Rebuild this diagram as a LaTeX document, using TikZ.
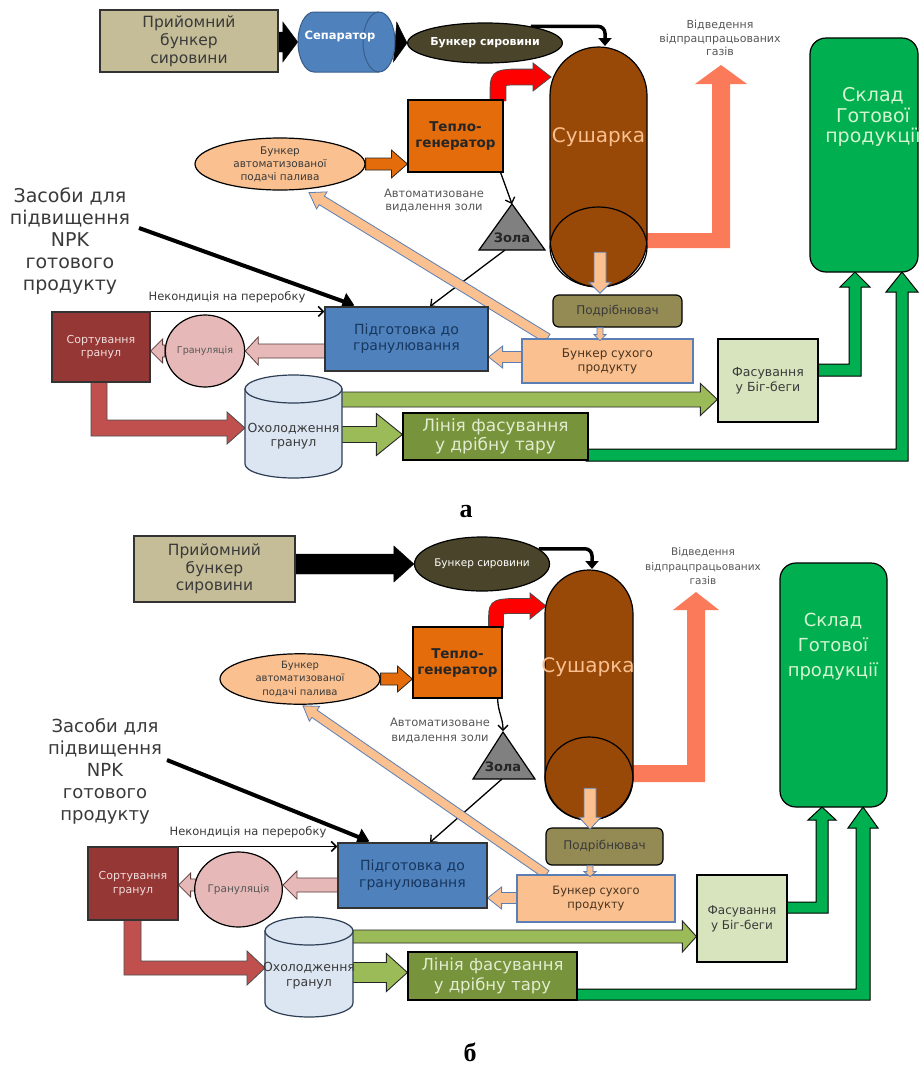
\documentclass[tikz,border=0pt]{standalone}
\usepackage{fontspec}
\setmainfont{DejaVu Sans}
\newfontfamily\capfont{Liberation Serif}
\usetikzlibrary{calc,arrows.meta,shapes.geometric}
\pgfdeclarelayer{bg}
\pgfsetlayers{bg,main}
\definecolor{tanc}{HTML}{C4BD97}
\definecolor{sepc}{HTML}{4F81BD}
\definecolor{sepd}{HTML}{385D8A}
\definecolor{bsc}{HTML}{4A452A}
\definecolor{sushc}{HTML}{984807}
\definecolor{peach}{HTML}{FAC090}
\definecolor{peachd}{HTML}{5B7FB5}
\definecolor{orng}{HTML}{E46C0A}
\definecolor{zolac}{HTML}{808080}
\definecolor{podgc}{HTML}{4F81BD}
\definecolor{podgt}{HTML}{17365D}
\definecolor{sortc}{HTML}{953735}
\definecolor{sortt}{HTML}{F2DCDB}
\definecolor{pinkc}{HTML}{E6B9B8}
\definecolor{pinkd}{HTML}{5A3A3A}
\definecolor{podrc}{HTML}{948A54}
\definecolor{oholc}{HTML}{DCE6F2}
\definecolor{hold}{HTML}{2D3E55}
\definecolor{liniac}{HTML}{77933C}
\definecolor{liniat}{HTML}{E2ECD0}
\definecolor{fasc}{HTML}{D7E4BD}
\definecolor{lgreen}{HTML}{9BBB59}
\definecolor{grn}{HTML}{00B050}
\definecolor{skladt}{HTML}{D6F5D0}
\definecolor{salmon}{HTML}{FA7A5A}
\definecolor{redl}{HTML}{C0504D}
\definecolor{txt}{HTML}{3A3A3A}
\definecolor{bspt}{HTML}{4A3520}
\newcommand{\fsz}[2]{\fontsize{#1}{#2}\selectfont}
% straight outlined block arrow: style, start, tip, half shaft, half head, head length
\newcommand{\fatarr}[6]{%
 \path #2 coordinate (faS) #3 coordinate (faE);
 \coordinate (faH) at ($(faE)!#6!(faS)$);
 \filldraw[#1] ($(faS)!#4!90:(faE)$) -- ($(faH)!#4!-90:(faS)$) -- ($(faH)!#5!-90:(faS)$) -- (faE) -- ($(faH)!#5!90:(faS)$) -- ($(faH)!#4!90:(faS)$) -- ($(faS)!#4!-90:(faE)$) -- cycle;}
% arrow head: style, base, tip, half width
\newcommand{\fathead}[4]{\filldraw[#1] ($#2!#4!90:#3$) -- #3 -- ($#2!#4!-90:#3$) -- cycle;}
\tikzset{
 every node/.style={align=center, inner sep=0pt},
 bord/.style={line width=1.2pt},
 thinarr/.style={line width=1.3pt, -{Straight Barb[length=5pt,width=10pt]}},
 blackarr/.style={fill=black, draw=black},
 peacharr/.style={fill=peach, draw=peachd, line width=0.8pt},
 pinkarr/.style={fill=pinkc, draw=pinkd, line width=0.8pt},
 lgarr/.style={fill=lgreen, draw=black!85, line width=0.9pt},
 orarr/.style={fill=orng, draw=black!85, line width=0.8pt},
 grarr/.style={fill=grn, draw=black, line width=1pt},
 redarr/.style={fill=redl, draw=black!70, line width=0.8pt},
}
\begin{document}
\begin{tikzpicture}[x=1pt,y=-1pt]
\begin{pgfonlayer}{bg}
\fill[white] (0,0) rectangle (919,1066);
\end{pgfonlayer}
\path[use as bounding box] (0,0) rectangle (919,1066);

%%%%%%%%%%%%%%%%%%%%%% diagram a %%%%%%%%%%%%%%%%%%%%%%
\node[draw=black!80, bord, fill=tanc, minimum width=178pt, minimum height=62pt, text=txt, font=\fsz{15.5}{18}] (pr) at (189,41) {Прийомний\\бункер\\сировини};
\draw[fill=sepc, draw=sepd, line width=1pt] (314,12) -- (379,12) arc(-90:90:16 and 30) -- (314,72) arc(90:270:16 and 30) -- cycle;
\draw[draw=sepd, line width=1pt] (379,12) arc(270:90:16 and 30);
\node[minimum width=97pt, minimum height=60pt] (sep) at (346.5,42) {};
\node[text=white, font=\bfseries\fsz{11.5}{14}] (sept) at (340,36) {Сепаратор};
\node[ellipse, draw=black, bord, fill=bsc, minimum width=134pt, minimum height=40pt, text=white, font=\bfseries\fsz{11}{13}] (bs) at (485,43) {Бункер сировини};
\draw[bord, fill=sushc, rounded corners=48.5pt] (550,47) rectangle (647,287);
\draw[bord] (598.5,247) ellipse (48.5 and 40);
\node[minimum width=97pt, minimum height=240pt] (sush) at (598.5,167) {};
\node[text=peach, font=\fsz{20}{24}] (susht) at (598.5,137) {Сушарка};
\node[draw=black, bord, fill=orng, minimum width=95pt, minimum height=72pt, font=\bfseries\fsz{13.5}{16}, text=black!85] (tep) at (455.5,136) {Тепло-\\генератор};
\node[ellipse, draw=black, bord, fill=peach, minimum width=170pt, minimum height=52pt, font=\fsz{10.5}{13}, text=txt] (bap) at (280,164) {Бункер\\автоматизованої\\подачі палива};
\node[text=txt!85, font=\fsz{11.5}{13}] (avt) at (434,201) {Автоматизоване\\видалення золи};
\draw[fill=zolac, draw=black, bord] (512,204) -- (545,250) -- (479,250) -- cycle;
\coordinate (zolaTop) at (512,204);
\coordinate (zolaBot) at (505,250);
\node[font=\bfseries\fsz{13}{15}, text=black!85] (zola) at (512,238) {Зола};
\node[text=txt, font=\fsz{19}{22}] (zas) at (70,241) {Засоби для\\підвищення\\NPK\\готового\\продукту};
\coordinate (zasE) at (139,228);
\node[text=txt, font=\fsz{11.5}{13}] (nek) at (227,297) {Некондиція на переробку};
\node[draw=black!80, bord, fill=podgc, minimum width=163pt, minimum height=64pt, text=podgt, font=\fsz{14}{16}] (podg) at (406.5,339) {Підготовка до\\гранулювання};
\node[draw=black!80, bord, fill=sortc, minimum width=98pt, minimum height=70pt, text=sortt, font=\fsz{11}{13}] (sort) at (101,347) {Сортування\\гранул};
\node[ellipse, draw=black, bord, fill=pinkc, minimum width=70pt, minimum height=72pt, text=txt!85, font=\fsz{9.5}{11}] (gran) at (205,351) {Грануляція};
\node[draw=black, bord, fill=podrc, rounded corners=6pt, minimum width=129pt, minimum height=32pt, text=txt, font=\fsz{12}{14}] (podr) at (617.5,311) {Подрібнювач};
\node[draw=peachd, bord, fill=peach, minimum width=171pt, minimum height=44pt, text=bspt, font=\fsz{12}{14}] (bsp) at (607.5,361) {Бункер сухого\\продукту};
\draw[fill=oholc, draw=hold, bord] (245,389) -- (245,464) arc(180:0:48.5 and 14) -- (342,389) -- cycle;
\draw[fill=oholc, draw=hold, bord] (293.5,389) ellipse (48.5 and 14);
\node[minimum width=97pt, minimum height=103pt] (ohol) at (293.5,426.5) {};
\node[text=txt, font=\fsz{12.5}{14}] (oholt) at (293.5,436) {Охолодження\\гранул};
\node[draw=black, bord, fill=liniac, minimum width=185pt, minimum height=47pt, text=liniat, font=\fsz{17}{19}] (linia) at (495.5,436.5) {Лінія фасування\\у дрібну тару};
\node[draw=black, bord, fill=fasc, minimum width=100pt, minimum height=83pt, text=txt, font=\fsz{12.5}{15}] (fas) at (768,380.5) {Фасування\\у Біг-беги};
\node[draw=black, bord, fill=grn, rounded corners=16pt, minimum width=108pt, minimum height=234pt] (sklad) at (864,155) {};
\node[text=skladt, font=\fsz{19}{20.5}] (skladt) at (873,117) {Склад\\Готової\\продукції};
\node[text=txt!85, font=\fsz{11}{13.5}] (vid) at (720,38) {Відведення\\відпрацпрацьованих\\газів};
\node[font=\capfont\bfseries\fsz{26}{28}] (capa) at (466,512) {а};
% arrows drawn over the dryer
\fatarr{peacharr}{($(sush.south)+(1.5,-35)$)}{($(sush.south)+(1.5,6)$)}{6pt}{11pt}{11pt}
\fatarr{peacharr}{($(podr.south)+(-17.5,0)$)}{($(podr.south)+(-17.5,13)$)}{3pt}{6pt}{6pt}

\begin{pgfonlayer}{bg}
\fatarr{blackarr}{(pr.east |- sep.west)}{(sep.west)}{10pt}{20pt}{15pt}
\fatarr{blackarr}{(sep.east)}{(bs.west)}{10pt}{20pt}{12pt}
\coordinate (sushIn) at (605,46);
\draw[line width=3.5pt, -{Triangle[length=8pt,width=13pt]}, rounded corners=7pt] (bs.20) -- (bs.20 -| sushIn) -- (sushIn);
\fathead{fill=red, draw=black!70, line width=0.8pt}{(533,77)}{(551,77)}{14pt}
\draw[draw=black!70, line width=0.8pt, double=red, double distance=15pt] (498,101) -- (498,92) .. controls (498,78) .. (512,77) -- (534,77);
\fatarr{orarr}{(bap.east)}{(bap.east -| tep.west)}{6pt}{14pt}{16pt}
\draw[thinarr] ($(tep.south east)+(-3,0)$) -- (zolaTop);
\draw[thinarr] (zolaBot) -- ($(podg.north)+(23.5,0)$);
\draw[line width=4pt, -{Triangle[length=12pt,width=17pt]}] (zasE) -- ($(podg.north west)+(30,-1)$);
\draw[line width=1.6pt, -{Straight Barb[length=5pt,width=10pt]}] (sort.north east) -- (sort.north east -| podg.west);
\fatarr{pinkarr}{($(podg.west)+(0,12)$)}{(gran.east)}{7pt}{14pt}{13pt}
\fatarr{pinkarr}{(gran.west)}{(gran.west -| sort.east)}{6pt}{12pt}{12pt}
\filldraw[redarr] (91,380) -- (91,436) -- (227,436) -- (227,444) -- (245,428) -- (227,412) -- (227,420) -- (107,420) -- (107,380) -- cycle;
\coordinate (ohA) at (341,399.5);
\fatarr{lgarr}{(ohA)}{(ohA -| fas.west)}{7.5pt}{16pt}{17pt}
\coordinate (ohB) at (341,434.5);
\fatarr{lgarr}{(ohB)}{(ohB -| linia.west)}{8pt}{21pt}{26pt}
\coordinate (bspL) at (522,357);
\fatarr{peacharr}{(bspL)}{(bspL -| podg.east)}{5.5pt}{11pt}{14pt}
\fatarr{peacharr}{($(bsp.north west)+(26,0)$)}{($(bap.south)+(29,2)$)}{5pt}{10pt}{15pt}
\fill[salmon] (640,233) -- (712,233) -- (712,84) -- (695,84) -- (721,65) -- (747,84) -- (730,84) -- (730,248) -- (640,248) -- cycle;
\filldraw[grarr] (816,364) -- (849,364) -- (849,287) -- (840,287) -- (855,272) -- (870,287) -- (861,287) -- (861,376) -- (816,376) -- cycle;
\filldraw[grarr] (586,449) -- (896,449) -- (896,292) -- (886,292) -- (902,272) -- (918,292) -- (908,292) -- (908,461) -- (586,461) -- cycle;
\end{pgfonlayer}

%%%%%%%%%%%%%%%%%%%%%% diagram b %%%%%%%%%%%%%%%%%%%%%%
\node[draw=black!80, bord, fill=tanc, minimum width=161pt, minimum height=66pt, text=txt, font=\fsz{15.5}{17.5}] (pr2) at (214.5,569) {Прийомний\\бункер\\сировини};
\node[ellipse, draw=black, bord, fill=bsc, minimum width=120pt, minimum height=54pt, text=white, font=\fsz{10.5}{12}] (bs2) at (482,564) {Бункер сировини};
\draw[bord, fill=sushc, rounded corners=44pt] (545,570) rectangle (633,820);
\draw[bord] (589,778.5) ellipse (44 and 41.5);
\node[minimum width=88pt, minimum height=250pt] (sush2) at (589,695) {};
\node[text=peach, font=\fsz{20}{24}] (sush2t) at (588,667) {Сушарка};
\node[draw=black, bord, fill=orng, minimum width=89pt, minimum height=71pt, font=\bfseries\fsz{13.5}{16}, text=black!85] (tep2) at (457.5,662.5) {Тепло-\\генератор};
\node[ellipse, draw=black, bord, fill=peach, minimum width=160pt, minimum height=48pt, font=\fsz{10}{13.5}, text=txt] (bap2) at (300,679) {Бункер\\автоматизованої\\подачі палива};
\node[text=txt!85, font=\fsz{11.5}{15}] (avt2) at (440,730.5) {Автоматизоване\\видалення золи};
\draw[fill=zolac, draw=black, bord] (503,732) -- (535,779) -- (473,779) -- cycle;
\coordinate (zola2Top) at (503,731);
\coordinate (zola2Bot) at (502,779);
\node[font=\bfseries\fsz{13}{15}, text=black!85] (zola2) at (503,767) {Зола};
\node[text=txt, font=\fsz{18}{22}] (zas2) at (105,771.5) {Засоби для\\підвищення\\NPK\\готового\\продукту};
\coordinate (zas2E) at (167,760);
\node[text=txt, font=\fsz{11.5}{13}] (nek2) at (248,832) {Некондиція на переробку};
\node[draw=black!80, bord, fill=podgc, minimum width=149pt, minimum height=65pt, text=podgt, font=\fsz{14}{17}] (podg2) at (412.5,875.5) {Підготовка до\\гранулювання};
\node[draw=black!80, bord, fill=sortc, minimum width=90pt, minimum height=73pt, text=sortt, font=\fsz{11}{14}] (sort2) at (133,883.5) {Сортування\\гранул};
\node[ellipse, draw=black, bord, fill=pinkc, minimum width=87pt, minimum height=75pt, text=txt!85, font=\fsz{10.5}{12}] (gran2) at (238.5,889.5) {Грануляція};
\node[draw=black, bord, fill=podrc, rounded corners=6pt, minimum width=117pt, minimum height=37pt, text=txt, font=\fsz{12}{14}] (podr2) at (604.5,846.5) {Подрібнювач};
\node[draw=peachd, bord, fill=peach, minimum width=158pt, minimum height=47pt, text=bspt, font=\fsz{11.5}{14}] (bsp2) at (596,898.5) {Бункер сухого\\продукту};
\draw[fill=oholc, draw=hold, bord] (265,931) -- (265,1003) arc(180:0:44 and 14) -- (353,931) -- cycle;
\draw[fill=oholc, draw=hold, bord] (309,931) ellipse (44 and 14);
\node[minimum width=88pt, minimum height=100pt] (ohol2) at (309,967) {};
\node[text=txt, font=\fsz{12.5}{15}] (ohol2t) at (309,975.5) {Охолодження\\гранул};
\node[draw=black, bord, fill=liniac, minimum width=169pt, minimum height=48pt, text=liniat, font=\fsz{16.5}{20}] (linia2) at (492.5,976) {Лінія фасування\\у дрібну тару};
\node[draw=black, bord, fill=fasc, minimum width=90pt, minimum height=87pt, text=txt, font=\fsz{12}{15}] (fas2) at (742,918.5) {Фасування\\у Біг-беги};
\node[draw=black, bord, fill=grn, rounded corners=16pt, minimum width=107pt, minimum height=244pt] (sklad2) at (833.5,685) {};
\node[text=skladt, font=\fsz{18}{25}] (sklad2t) at (833,647) {Склад\\Готової\\продукції};
\node[text=txt!85, font=\fsz{10.5}{14.5}] (vid2) at (703,566.5) {Відведення\\відпрацпрацьованих\\газів};
\node[font=\capfont\bfseries\fsz{26}{28}] (capb) at (470,1052) {б};
% arrows drawn over the dryer
\fatarr{peacharr}{($(sush2.south)+(1,-32)$)}{($(sush2.south)+(1,9)$)}{6pt}{11pt}{12pt}
\fatarr{peacharr}{($(podr2.south)+(-14.5,0)$)}{($(podr2.south)+(-14.5,11)$)}{3pt}{6pt}{5pt}

\begin{pgfonlayer}{bg}
\fatarr{blackarr}{(pr2.east |- bs2.west)}{(bs2.west)}{10pt}{18pt}{20pt}
\coordinate (sush2In) at (592,569);
\draw[line width=3.5pt, -{Triangle[length=8pt,width=13pt]}, rounded corners=7pt] (bs2.15) -- (bs2.15 -| sush2In) -- (sush2In);
\fathead{fill=red, draw=black!70, line width=0.8pt}{(530,606)}{(546,606)}{13pt}
\draw[draw=black!70, line width=0.8pt, double=red, double distance=14pt] (496,628) -- (496,620) .. controls (496,607) .. (509,606) -- (531,606);
\fatarr{orarr}{(bap2.east)}{(bap2.east -| tep2.west)}{6pt}{13pt}{15pt}
\draw[thinarr] ($(tep2.south east)+(-5,0)$) .. controls (498,712) and (503,718) .. (zola2Top);
\draw[thinarr] (zola2Bot) -- ($(podg2.north)+(17.5,0)$);
\draw[line width=4pt, -{Triangle[length=12pt,width=17pt]}] (zas2E) -- ($(podg2.north west)+(32,-1)$);
\draw[line width=1.6pt, -{Straight Barb[length=5pt,width=10pt]}] (sort2.north east) -- (sort2.north east -| podg2.west);
\coordinate (pk2) at ($(podg2.west)+(0,9.5)$);
\fatarr{pinkarr}{(pk2)}{(pk2 -| gran2.east)}{7pt}{14pt}{14pt}
\coordinate (pk3) at (196,885);
\fatarr{pinkarr}{(pk3)}{(pk3 -| sort2.east)}{6pt}{12pt}{12pt}
\filldraw[redarr] (124,918) -- (124,975) -- (247,975) -- (247,985) -- (265,968) -- (247,951) -- (247,961) -- (141,961) -- (141,918) -- cycle;
\coordinate (oh2A) at (352,936.5);
\fatarr{lgarr}{(oh2A)}{(oh2A -| fas2.west)}{6.5pt}{15.5pt}{14pt}
\coordinate (oh2B) at (352,972.5);
\fatarr{lgarr}{(oh2B)}{(oh2B -| linia2.west)}{10pt}{19pt}{21pt}
\coordinate (bsp2L) at (517,898);
\fatarr{peacharr}{(bsp2L)}{(bsp2L -| podg2.east)}{5.5pt}{11pt}{14pt}
\fatarr{peacharr}{($(bsp2.north west)+(30,0)$)}{($(bap2.south)+(3,1)$)}{4.5pt}{9pt}{14pt}
\fill[salmon] (630,765) -- (687,765) -- (687,610) -- (673,610) -- (696,592) -- (719,610) -- (705,610) -- (705,782) -- (630,782) -- cycle;
\filldraw[grarr] (785,902) -- (816,902) -- (816,820) -- (808,820) -- (822,807) -- (836,820) -- (828,820) -- (828,913) -- (785,913) -- cycle;
\filldraw[grarr] (575,989) -- (856,989) -- (856,828) -- (848,828) -- (863,807) -- (878,828) -- (870,828) -- (870,1000) -- (575,1000) -- cycle;
\end{pgfonlayer}
\end{tikzpicture}
\end{document}
